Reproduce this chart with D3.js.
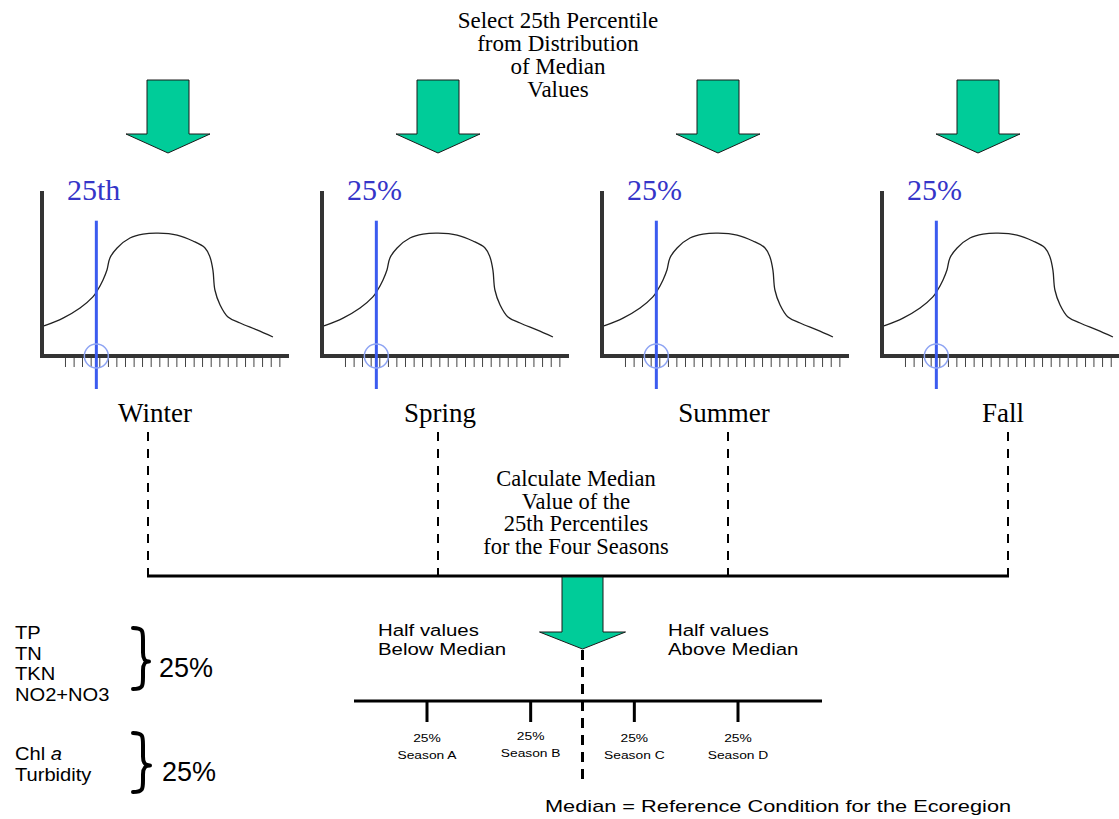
<!DOCTYPE html>
<html><head><meta charset="utf-8">
<script src="https://cdn.jsdelivr.net/npm/d3@7"></script>
<style>body{margin:0;background:#fff}svg{display:block}</style>
</head><body>
<svg id="c" width="1119" height="819"></svg>
<script>
// ---------- data ----------
const seasons = ["Winter", "Spring", "Summer", "Fall"];
const panelLabels = ["25th", "25%", "25%", "25%"];
// distribution curve of median values (x: value 0-100, y: frequency 0-100)
const curveX = [0.8, 8.5, 15.4, 20.6, 22.3, 24.7, 26.3, 27.5, 30.4, 35.6, 40.9, 47.0, 54.7, 61.1, 66.0, 68.0, 69.2, 70.0, 72.1, 75.3, 80.2, 87.0, 93.5];
const curveY = [18.2, 23.0, 29.1, 35.8, 39.4, 46.1, 52.1, 59.4, 65.5, 71.5, 73.9, 74.5, 73.3, 69.7, 65.5, 60.0, 52.1, 40.0, 30.9, 23.6, 20.0, 15.8, 11.5];
const percentile25 = [22, 22, 22, 22];
const tickValues = [9.3, 12.8, 16.2, 19.7, 23.2, 26.7, 30.1, 33.6, 37.1, 40.5, 44.0, 47.5, 50.9, 54.4, 57.9, 61.4, 64.8, 68.3, 71.8, 75.2, 78.7, 82.2, 85.6, 89.1, 92.6, 96.1];
const topTitle = ["Select 25th Percentile", "from Distribution", "of Median", "Values"];
const midTitle = ["Calculate Median", "Value of the", "25th Percentiles", "for the Four Seasons"];
const seasonRanks = [1, 2, 3, 4];
const rankPct = ["25%", "25%", "25%", "25%"];
const rankLabels = ["Season A", "Season B", "Season C", "Season D"];
const halfLeft = ["Half values", "Below Median"];
const halfRight = ["Half values", "Above Median"];
const medianCaption = "Median = Reference Condition for the Ecoregion";
const nutrientList = ["TP", "TN", "TKN", "NO2+NO3"];
const responseList = ["Chl", "Turbidity"];
const groupPct = ["25%", "25%"];

// ---------- layout ----------
const L = {
  panelX: [42, 322, 602, 882], panelY: 356, panelW: 247, panelH: 165,
  arrowX: [168, 438, 718, 978], arrowTop: 80, arrowBase: 134, arrowTip: 153, shaftHalf: 21, headHalf: 42,
  seasonLabelX: [155, 440, 724, 1003], seasonLabelY: 422,
  dashX: [148, 438, 728, 1008], dashTop: 432, joinY: 576,
  numLine: {x0: 354, x1: 822, y: 701}
};
const serif = "'Liberation Serif','Times New Roman',serif";
const sans = "'Liberation Sans',Arial,sans-serif";
const green = "#00cc99";

const svg = d3.select("#c");

function arrow(cx, top, base, tip, sh, hh) {
  const p = [[cx - sh, top], [cx + sh, top], [cx + sh, base], [cx + hh, base], [cx, tip], [cx - hh, base], [cx - sh, base]];
  svg.append("path").attr("d", "M" + p.join("L") + "Z")
    .attr("fill", green).attr("stroke", "#1a1a1a").attr("stroke-width", 1);
}
function sansText(x, y, str, size, anchor, sx) {
  return svg.append("text").attr("transform", `translate(${x},${y}) scale(${sx || 1.15},1)`)
    .attr("font-family", sans).attr("font-size", size).attr("text-anchor", anchor || "start")
    .attr("fill", "#000").text(str);
}

// top title
topTitle.forEach((t, i) => svg.append("text").attr("x", 558).attr("y", 28 + i * 23)
  .attr("text-anchor", "middle").attr("font-family", serif).attr("font-size", 23).text(t));

// top arrows
L.arrowX.forEach(cx => arrow(cx, L.arrowTop, L.arrowBase, L.arrowTip, L.shaftHalf, L.headHalf));

// panels
const pts = curveX.map((x, i) => [x, curveY[i]]);
seasons.forEach((s, i) => {
  const x0 = L.panelX[i];
  const x = d3.scaleLinear().domain([0, 100]).range([x0, x0 + L.panelW]);
  const y = d3.scaleLinear().domain([0, 100]).range([L.panelY, L.panelY - L.panelH]);
  const g = svg.append("g");
  const ax = g.append("g").attr("transform", `translate(0,${L.panelY})`)
    .call(d3.axisBottom(x).tickValues(tickValues).tickSizeInner(11).tickSizeOuter(0).tickFormat(""));
  ax.select(".domain").remove();
  ax.selectAll(".tick line").attr("stroke", "#444").attr("stroke-width", 1);
  g.append("line").attr("x1", x(0)).attr("x2", x(0)).attr("y1", y(100)).attr("y2", y(0) + 2)
    .attr("stroke", "#333").attr("stroke-width", 4);
  g.append("line").attr("x1", x(0) - 2).attr("x2", x(100)).attr("y1", y(0)).attr("y2", y(0))
    .attr("stroke", "#333").attr("stroke-width", 4);
  g.append("path").datum(pts)
    .attr("d", d3.line().x(d => x(d[0])).y(d => y(d[1])).curve(d3.curveCatmullRom.alpha(0.5)))
    .attr("fill", "none").attr("stroke", "#222").attr("stroke-width", 1.3);
  const px = x(percentile25[i]);
  g.append("line").attr("x1", px).attr("x2", px).attr("y1", y(82)).attr("y2", y(-20))
    .attr("stroke", "#3b5bef").attr("stroke-width", 3);
  g.append("circle").attr("cx", px).attr("cy", y(0)).attr("r", 12)
    .attr("fill", "none").attr("stroke", "#8ea4f3").attr("stroke-width", 1.5);
  g.append("text").attr("x", x0 + 25).attr("y", 200).attr("font-family", serif)
    .attr("font-size", 30).attr("fill", "#3535c8").text(panelLabels[i]);
  svg.append("text").attr("x", L.seasonLabelX[i]).attr("y", L.seasonLabelY)
    .attr("text-anchor", "middle").attr("font-family", serif).attr("font-size", 27).text(s);
  svg.append("line").attr("x1", L.dashX[i]).attr("x2", L.dashX[i]).attr("y1", L.dashTop).attr("y2", L.joinY)
    .attr("stroke", "#000").attr("stroke-width", 2).attr("stroke-dasharray", "9,8");
});
svg.append("line").attr("x1", L.dashX[0] - 1).attr("x2", L.dashX[3] + 1).attr("y1", L.joinY).attr("y2", L.joinY)
  .attr("stroke", "#000").attr("stroke-width", 3);

// middle title
midTitle.forEach((t, i) => svg.append("text").attr("x", 576).attr("y", 486 + i * 22.7)
  .attr("text-anchor", "middle").attr("font-family", serif).attr("font-size", 22.5).text(t));

// number line of seasonal 25th percentiles
const r = d3.scaleLinear().domain([1, 4]).range([427, 738]);
const med = d3.median(seasonRanks);
svg.append("line").attr("x1", L.numLine.x0).attr("x2", L.numLine.x1).attr("y1", L.numLine.y).attr("y2", L.numLine.y)
  .attr("stroke", "#000").attr("stroke-width", 3);
seasonRanks.forEach((v, i) => {
  const xx = r(v);
  svg.append("line").attr("x1", xx).attr("x2", xx).attr("y1", L.numLine.y).attr("y2", L.numLine.y + 21)
    .attr("stroke", "#000").attr("stroke-width", 3);
  const dy = i === 1 ? -2 : 0;
  sansText(xx, 742 + dy, rankPct[i], 11.5, "middle", 1.2);
  sansText(xx, 759 + dy, rankLabels[i], 11.5, "middle", 1.2);
});
const mx = r(med);
svg.append("line").attr("x1", mx).attr("x2", mx).attr("y1", 650).attr("y2", 786)
  .attr("stroke", "#000").attr("stroke-width", 3).attr("stroke-dasharray", "10,7");
arrow(mx, L.joinY + 1, 632, 649, 20.5, 43);

halfLeft.forEach((t, i) => sansText(378, 636 + i * 19, t, 17, "start", 1.2));
halfRight.forEach((t, i) => sansText(668, 636 + i * 19, t, 17, "start", 1.2));
sansText(545, 812, medianCaption, 17, "start", 1.28);

nutrientList.forEach((t, i) => sansText(15, 639 + i * 20.7, t, 17.5, "start", 1.15));
const chl = sansText(15, 760, responseList[0] + " ", 17.5, "start", 1.15);
chl.append("tspan").attr("font-style", "italic").text("a");
sansText(15, 781, responseList[1], 17.5, "start", 1.15);

function brace(x0, y0, y1, stemX, tipX) {
  const ym = (y0 + y1) / 2 + 3;
  const d = `M${x0},${y0} C${stemX},${y0} ${stemX},${y0 + 3} ${stemX},${y0 + 12}
    L${stemX},${ym - 9} C${stemX},${ym - 2} ${stemX + 2},${ym} ${tipX},${ym}
    C${stemX + 2},${ym} ${stemX},${ym + 2} ${stemX},${ym + 9}
    L${stemX},${y1 - 12} C${stemX},${y1 - 3} ${stemX},${y1} ${x0},${y1}`;
  svg.append("path").attr("d", d).attr("fill", "none").attr("stroke", "#000")
    .attr("stroke-width", 4).attr("stroke-linecap", "round").attr("stroke-linejoin", "round");
}
brace(133, 628, 689, 143, 149);
brace(133, 733, 792, 143, 150);
svg.append("text").attr("x", 159).attr("y", 677).attr("font-family", sans).attr("font-size", 27).text(groupPct[0]);
svg.append("text").attr("x", 162).attr("y", 781).attr("font-family", sans).attr("font-size", 27).text(groupPct[1]);
</script>
</body></html>
